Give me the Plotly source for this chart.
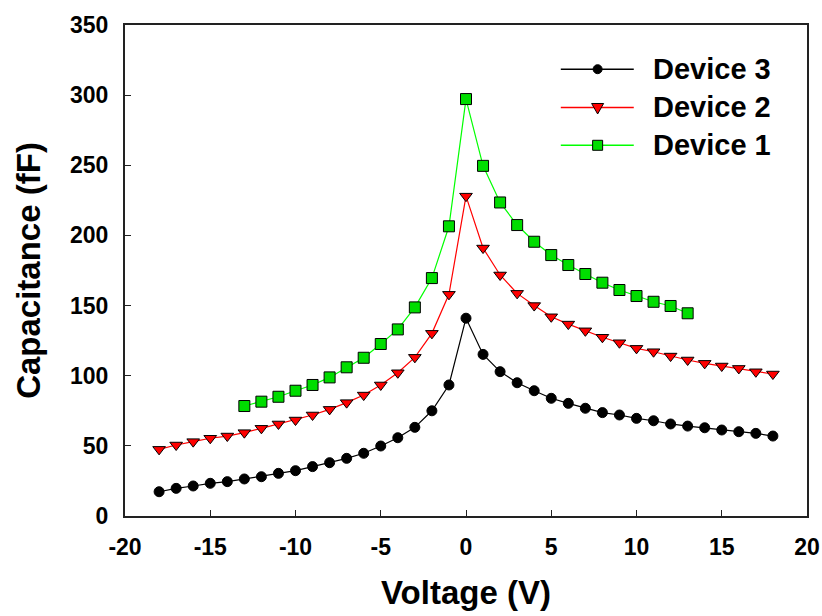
import plotly.graph_objects as go

# Bias voltage sweeps (V)
voltage_wide = list(range(-18, 19))
voltage_narrow = list(range(-13, 14))

# Capacitance (fF) for each device
cap_device3 = [17.3, 19.7, 21.4, 23.3, 24.5, 26.4, 28.0, 30.4, 32.3, 35.2, 38.0, 41.1,
               44.7, 49.9, 55.8, 63.2, 75.0, 93.4, 141.0, 115.2, 102.9, 95.0, 89.3,
               83.9, 80.3, 76.8, 73.7, 72.0, 69.6, 67.9, 65.6, 64.1, 62.9, 61.3,
               60.1, 58.9, 57.0]
cap_device2 = [47.5, 50.6, 53.0, 55.4, 57.0, 59.4, 62.5, 65.6, 68.4, 72.0, 76.0, 80.8,
               86.2, 93.4, 102.1, 113.1, 130.2, 158.0, 228.0, 191.0, 171.8, 158.7,
               150.0, 142.0, 136.8, 132.0, 127.4, 123.5, 119.5, 117.1, 114.0, 111.2,
               108.8, 106.9, 105.2, 102.8, 101.2]
cap_device1 = [78.4, 81.5, 85.0, 89.3, 93.4, 98.8, 106.0, 112.8, 122.6, 133.0, 148.7,
               169.6, 206.5, 297.2, 249.6, 223.5, 207.4, 195.5, 186.0, 178.9, 172.5,
               166.3, 161.1, 156.8, 152.7, 149.7, 144.5]

series_names = ["Device 3", "Device 2", "Device 1"]

x_ticks = list(range(-20, 21, 5))
y_ticks = list(range(0, 351, 50))

FONT = "Liberation Sans, Arial, sans-serif"

styles = [
    dict(line="black", fill="black", symbol="circle", size=10),
    dict(line="#ff0000", fill="#ff0000", symbol="triangle-down", size=11),
    dict(line="#00ff00", fill="#00dd00", symbol="square", size=11),
]
series = [
    (voltage_wide, cap_device3),
    (voltage_wide, cap_device2),
    (voltage_narrow, cap_device1),
]

fig = go.Figure()
for name, (xs, ys), st in zip(series_names, series, styles):
    fig.add_trace(go.Scatter(
        x=xs, y=ys, name=name, mode="lines+markers",
        line=dict(color=st["line"], width=1.2),
        marker=dict(symbol=st["symbol"], size=st["size"], color=st["fill"],
                    line=dict(color="black", width=1)),
    ))

# Hand-built key: long sample line, centred marker, label
key_x0, key_x1, key_mark, key_text = 0.639, 0.746, 0.693, 0.771
key_rows = [0.910, 0.832, 0.755]
shapes, annotations = [], []
for name, st, ky in zip(series_names, styles, key_rows):
    shapes.append(dict(type="line", xref="paper", yref="paper",
                       x0=key_x0, x1=key_x1, y0=ky, y1=ky,
                       line=dict(color=st["line"], width=1.5)))
    marker_common = dict(xref="paper", yref="paper", xsizemode="pixel",
                         ysizemode="pixel", xanchor=key_mark, yanchor=ky,
                         fillcolor=st["fill"], line=dict(color="black", width=1))
    if st["symbol"] == "circle":
        shapes.append(dict(type="circle", x0=-4.5, x1=4.5, y0=-4.5, y1=4.5,
                           **marker_common))
    elif st["symbol"] == "square":
        shapes.append(dict(type="rect", x0=-5, x1=5, y0=-5, y1=5, **marker_common))
    else:
        shapes.append(dict(type="path", path="M-6,4 L6,4 L0,-6.5 Z",
                           **marker_common))
    annotations.append(dict(
        xref="paper", yref="paper", x=key_text, y=ky, xanchor="left",
        yanchor="middle", showarrow=False, text=name,
        font=dict(family=FONT, size=29, color="black", weight="bold"),
    ))

axis_common = dict(
    showline=True, linecolor="#222222", linewidth=2, mirror=True,
    showgrid=False, zeroline=False, automargin=False,
    ticks="inside", ticklen=6, tickwidth=1, tickcolor="#222222",
    tickfont=dict(family=FONT, size=23, color="black", weight="bold"),
)

fig.update_layout(
    width=822, height=616,
    margin=dict(l=125, r=15, t=25, b=100),
    paper_bgcolor="white", plot_bgcolor="white",
    showlegend=False,
    shapes=shapes,
    annotations=annotations,
    xaxis=dict(
        range=[-20, 20], tickvals=x_ticks, ticktext=[str(v) for v in x_ticks],
        ticklabelstandoff=9,
        title=dict(text="Voltage (V)", standoff=22,
                   font=dict(family=FONT, size=33, color="black", weight="bold")),
        **axis_common,
    ),
    yaxis=dict(
        range=[0, 350], tickvals=y_ticks, ticktext=[str(v) for v in y_ticks],
        ticklabelstandoff=10,
        title=dict(text="Capacitance (fF)", standoff=19,
                   font=dict(family=FONT, size=33, color="black", weight="bold")),
        **axis_common,
    ),
)

fig.write_html("out.html")
